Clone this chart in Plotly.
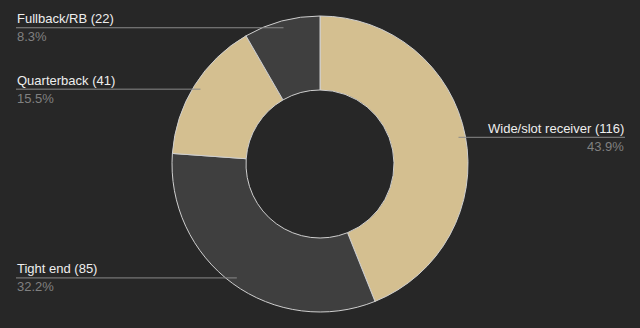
import math
import plotly.graph_objects as go

labels = ["Wide/slot receiver", "Tight end", "Quarterback", "Fullback/RB"]
values = [116, 85, 41, 22]
colors = ["#d4bf90", "#3f3f3f", "#d4bf90", "#3f3f3f"]
pct_labels = ["43.9%", "32.2%", "15.5%", "8.3%"]

W, H = 640, 328
CX, CY = 320, 164
R = 148
DOT_R = 0.953 * R
LEFT_X = 16
RIGHT_X = 625
BG = "#272727"

fig = go.Figure()
fig.add_trace(go.Pie(
    labels=labels, values=values, sort=False, direction="clockwise", rotation=0,
    hole=0.5, textinfo="none", hoverinfo="label+value+percent",
    marker=dict(colors=colors, line=dict(color="#cfcfcf", width=1)),
    domain=dict(x=[0, 1], y=[(CY - R) / H, (CY + R) / H]),
    showlegend=False,
))

total = sum(values)
cum = 0
dx, dy = [], []
for lab, v, p in zip(labels, values, pct_labels):
    mid = (cum + v / 2) / total * 2 * math.pi
    cum += v
    px = CX + DOT_R * math.sin(mid)
    py = CY - DOT_R * math.cos(mid)
    dx.append(px)
    dy.append(py)
    if px > CX:
        x0, x1, xa, anchor = px, RIGHT_X, RIGHT_X, "right"
    else:
        x0, x1, xa, anchor = LEFT_X, px, LEFT_X, "left"
    fig.add_shape(type="line", x0=x0, x1=x1, y0=py, y1=py, xref="x", yref="y",
                  line=dict(color="#8a8a8a", width=1))
    fig.add_annotation(x=xa, y=py - 0.5, xref="x", yref="y", text=f"{lab} ({v})",
                       showarrow=False, xanchor=anchor, yanchor="bottom",
                       font=dict(color="#eeeeee", size=13), borderpad=0)
    fig.add_annotation(x=xa, y=py + 0.5, xref="x", yref="y", text=p,
                       showarrow=False, xanchor=anchor, yanchor="top",
                       font=dict(color="#808080", size=13), borderpad=0)

fig.add_trace(go.Scatter(x=dx, y=dy, mode="markers", hoverinfo="skip",
                         marker=dict(color="#8a8a8a", size=4), showlegend=False))

fig.update_layout(
    width=W, height=H, margin=dict(l=0, r=0, t=0, b=0),
    paper_bgcolor=BG, plot_bgcolor="rgba(0,0,0,0)",
    font=dict(family="Liberation Sans, Arial, sans-serif"),
    xaxis=dict(range=[0, W], visible=False, fixedrange=True),
    yaxis=dict(range=[H, 0], visible=False, fixedrange=True),
)

fig.write_html("out.html", config={"displayModeBar": False})
